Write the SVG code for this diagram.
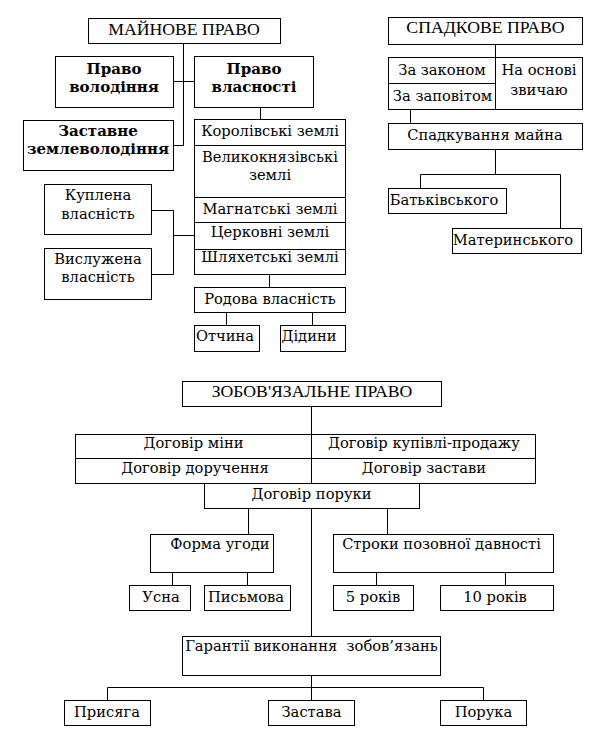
<svg xmlns="http://www.w3.org/2000/svg" width="607" height="736" viewBox="0 0 607 736">
<style>
.box{fill:#fff;stroke:#000;stroke-width:1}
.ln{fill:none;stroke:#000;stroke-width:1}
text{font-family:"DejaVu Serif","Liberation Serif",serif;font-size:14.7px;text-anchor:middle;fill:#000}
.title{font-family:"Liberation Serif",serif;font-size:17.7px}
.b{font-weight:bold;font-size:15px}
</style>
<rect width="607" height="736" fill="#fff"/>
<g id="connectors" class="ln">
<path d="M183.5,43.5V145.5H173.5M173.5,81.5H194.5"/>
<path d="M260.5,107.5V119.5"/>
<path d="M151.5,210.5H173.5V274.5H151.5M173.5,235.5H194.5"/>
<path d="M269.5,274.5V287.5"/>
<path d="M226.5,312.5V325.5M312.5,312.5V325.5"/>
<path d="M495.5,44.5V57.5"/>
<path d="M410.5,109.5V123.5"/>
<path d="M495.5,149.5V174.5M420.5,188.5V174.5H560.5V228.5"/>
<path d="M311.5,406.5V434.5"/>
<path d="M248.5,508.5V534.5M311.5,508.5V636.5M387.5,508.5V534.5"/>
<path d="M172.5,572.5V585.5M247.5,572.5V585.5M376.5,572.5V585.5M505.5,572.5V585.5"/>
<path d="M311.5,675.5V700.5M107.5,700.5V687.5H483.5V700.5"/>
</g>
<g id="mainove"><rect class="box" x="88.5" y="18.5" width="192" height="25"/><text class="title" x="184" y="34.5">МАЙНОВЕ ПРАВО</text></g>
<g id="volodinnia"><rect class="box" x="55.5" y="56.5" width="118" height="51"/><text class="b" x="114" y="74">Право</text><text class="b" x="114" y="91.5">володіння</text></g>
<g id="vlasnosti"><rect class="box" x="194.5" y="56.5" width="119" height="51"/><text class="b" x="254" y="74">Право</text><text class="b" x="254" y="91.5">власності</text></g>
<g id="zastavne"><rect class="box" x="23.5" y="120.5" width="150" height="50"/><text class="b" x="98" y="136">Заставне</text><text class="b" x="98" y="153.5">землеволодіння</text></g>
<g id="lands">
<rect class="box" x="194.5" y="119.5" width="151" height="155"/>
<path class="ln" d="M194.5,145.5H345.5M194.5,197.5H345.5M194.5,222.5H345.5M194.5,249.5H345.5"/>
<text x="270" y="136">Королівські землі</text>
<text x="270" y="162">Великокнязівські</text><text x="270" y="179.5">землі</text>
<text x="270" y="213.5">Магнатські землі</text>
<text x="270" y="237">Церковні землі</text>
<text x="270" y="262">Шляхетські землі</text>
</g>
<g id="kuplena"><rect class="box" x="44.5" y="184.5" width="107" height="50"/><text x="98" y="200">Куплена</text><text x="98" y="218.5">власність</text></g>
<g id="vysluzhena"><rect class="box" x="44.5" y="248.5" width="107" height="51"/><text x="98" y="264">Вислужена</text><text x="98" y="282">власність</text></g>
<g id="rodova"><rect class="box" x="194.5" y="287.5" width="151" height="25"/><text x="270" y="303.5">Родова власність</text></g>
<g id="otchyna"><rect class="box" x="194.5" y="325.5" width="65" height="26"/><text x="225" y="340.5">Отчина</text></g>
<g id="didyny"><rect class="box" x="280.5" y="325.5" width="65" height="26"/><text x="309" y="340.5">Дідини</text></g>
<g id="spadkove"><rect class="box" x="388.5" y="17.5" width="194" height="27"/><text class="title" x="485.5" y="33">СПАДКОВЕ ПРАВО</text></g>
<g id="spadok-vydy">
<rect class="box" x="388.5" y="57.5" width="194" height="52"/>
<path class="ln" d="M495.5,57.5V109.5M388.5,83.5H495.5"/>
<text x="442" y="74.5">За законом</text>
<text x="442.5" y="101">За заповітом</text>
<text x="539" y="74.5">На основі</text><text x="539" y="95">звичаю</text>
</g>
<g id="spadkuvannia"><rect class="box" x="388.5" y="123.5" width="194" height="26"/><text x="485" y="140">Спадкування майна</text></g>
<g id="batkivskoho"><rect class="box" x="388.5" y="188.5" width="118" height="25"/><text x="444" y="204.5">Батьківського</text></g>
<g id="materynskoho"><rect class="box" x="452.5" y="228.5" width="129" height="25"/><text x="513" y="244.5">Материнського</text></g>
<g id="zobov"><rect class="box" x="182.5" y="381.5" width="259" height="25"/><text class="title" x="312" y="396.5">ЗОБОВ'ЯЗАЛЬНЕ ПРАВО</text></g>
<g id="dohovory">
<rect class="box" x="75.5" y="434.5" width="460" height="49"/>
<path class="ln" d="M75.5,458.5H535.5M311.5,434.5V483.5"/>
<text x="193.5" y="447.5">Договір міни</text>
<text x="424" y="447.5">Договір купівлі-продажу</text>
<text x="195" y="473">Договір доручення</text>
<text x="424" y="473">Договір застави</text>
</g>
<g id="poruky"><rect class="box" x="204.5" y="483.5" width="215" height="25"/><text x="311.5" y="498.5">Договір поруки</text></g>
<g id="forma"><rect class="box" x="150.5" y="534.5" width="123" height="38"/><text x="220" y="549">Форма угоди</text></g>
<g id="stroky"><rect class="box" x="333.5" y="534.5" width="220" height="38"/><text x="441.5" y="549">Строки позовної давності</text></g>
<g id="usna"><rect class="box" x="129.5" y="585.5" width="61" height="25"/><text x="161" y="601.5">Усна</text></g>
<g id="pysmova"><rect class="box" x="204.5" y="585.5" width="86" height="25"/><text x="246" y="601.5">Письмова</text></g>
<g id="r5"><rect class="box" x="333.5" y="585.5" width="80" height="25"/><text x="373" y="601.5">5 років</text></g>
<g id="r10"><rect class="box" x="440.5" y="585.5" width="113" height="25"/><text x="495" y="601.5">10 років</text></g>
<g id="harantii"><rect class="box" x="182.5" y="636.5" width="258" height="39"/><text x="311.5" y="651" xml:space="preserve">Гарантії виконання  зобов’язань</text></g>
<g id="prysiaha"><rect class="box" x="64.5" y="700.5" width="86" height="25"/><text x="107" y="717">Присяга</text></g>
<g id="zastava"><rect class="box" x="268.5" y="700.5" width="86" height="25"/><text x="311.5" y="717">Застава</text></g>
<g id="poruka"><rect class="box" x="440.5" y="700.5" width="86" height="25"/><text x="483.5" y="717">Порука</text></g>
</svg>
